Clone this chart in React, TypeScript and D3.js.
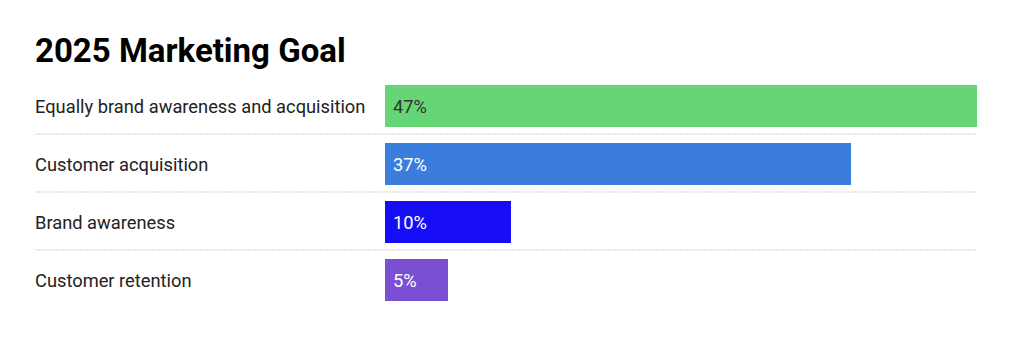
import React from "react";
import * as d3 from "d3";

const categories = [
  "Equally brand awareness and acquisition",
  "Customer acquisition",
  "Brand awareness",
  "Customer retention",
];
const values = [47, 37, 10, 5];
const valueLabels = ["47%", "37%", "10%", "5%"];
const barColors = ["#66d575", "#3a7ddc", "#170cf6", "#7b4fd1"];
const valueTextColors = ["#333333", "#ffffff", "#ffffff", "#ffffff"];
const title = "2025 Marketing Goal";

const W = 1024;
const H = 358;
const FONT = "Roboto, 'Noto Sans', Arial, sans-serif";

export default function App() {
  const left = 35;
  const x = d3.scaleLinear().domain([0, d3.max(values) as number]).range([385, 977]);
  const y = d3
    .scaleBand<string>()
    .domain(categories)
    .range([76.5, 76.5 + 58 * categories.length])
    .paddingInner(0)
    .paddingOuter(0);
  const rowH = y.bandwidth();
  const barPad = 8.5;
  const barH = 42;

  return (
    <svg
      width={W}
      height={H}
      style={{ position: "absolute", left: 0, top: 0, display: "block", background: "#fff" }}
      fontFamily={FONT}
    >
      <text x={left} y={62} fontSize={33} fontWeight={700} fill="#000">
        {title}
      </text>
      {categories.map((c, i) => {
        const top = y(c) as number;
        const cy = top + barPad + barH / 2;
        return (
          <g key={c}>
            <text
              x={left}
              y={cy}
              dominantBaseline="central"
              fontSize={18.3}
              fill="#222"
            >
              {c}
            </text>
            <rect
              x={x(0)}
              y={top + barPad}
              width={x(values[i]) - x(0)}
              height={barH}
              fill={barColors[i]}
            />
            <text
              x={x(0) + 8}
              y={cy}
              dominantBaseline="central"
              fontSize={18.3}
              fill={valueTextColors[i]}
            >
              {valueLabels[i]}
            </text>
            {i < categories.length - 1 && (
              <line
                x1={left}
                x2={977}
                y1={top + rowH - 0.5}
                y2={top + rowH - 0.5}
                stroke="#cfcfcf"
                strokeDasharray="2,1"
                strokeWidth={1}
              />
            )}
          </g>
        );
      })}
    </svg>
  );
}
